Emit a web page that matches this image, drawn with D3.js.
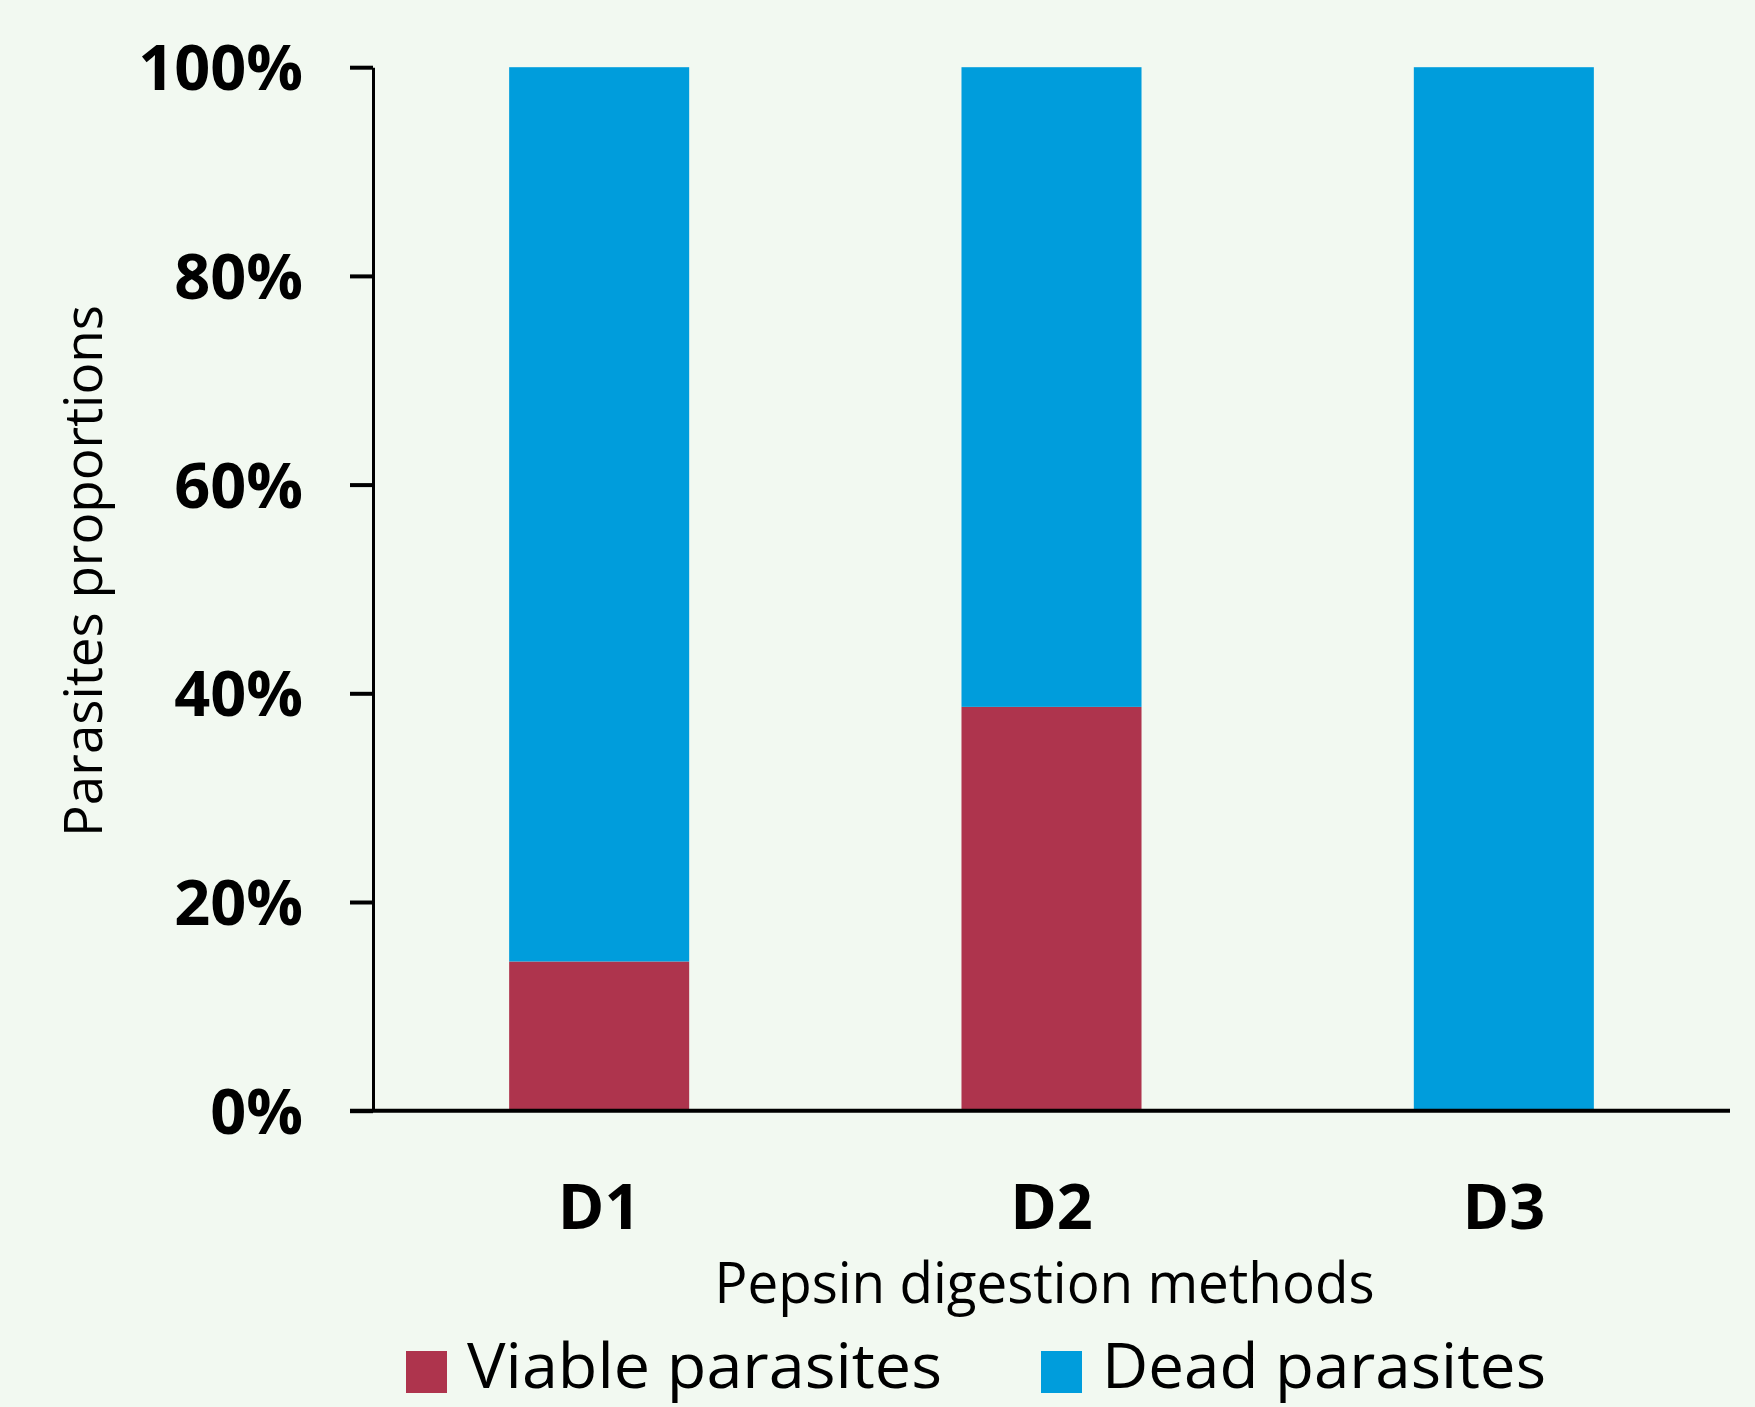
<!DOCTYPE html>
<html>
<head>
<meta charset="utf-8">
<script src="https://cdn.jsdelivr.net/npm/d3@7"></script>
<style>
	html, body { margin: 0; padding: 0; background: #F2F9F1; }
	svg { display: block; }
	.tick text { font-family: 'Open Sans', sans-serif; font-weight: bold; fill: #000; }
	.label { font-family: 'Open Sans', sans-serif; fill: #000; }
</style>
</head>
<body>
<div id="chart"></div>
<script>
const categories = ['D1', 'D2', 'D3'];
const viable = [0.143, 0.387, 0];
const dead = [0.857, 0.613, 1];
const seriesNames = ['Viable parasites', 'Dead parasites'];
const seriesColors = ['#AE344D', '#009DDC'];
const yTicks = [0, 0.2, 0.4, 0.6, 0.8, 1];

function trans(x, y) {
	return 'translate(' + x + ',' + y + ')';
}

class StackedBars {
	constructor() {
		this.STYLE = {
			WIDTH: 1755,
			HEIGHT: 1407,
			LEFT: 373,
			RIGHT: 1730,
			TOP: 67.2,
			BOTTOM: 1110.7,
			DOM_ID: '#chart'
		};
		// one row per category, keys = series names
		this.rows = categories.map((c, i) => ({
			cat: c,
			'Viable parasites': viable[i],
			'Dead parasites': dead[i]
		}));
	}

	build() {
		this.makeScales();
		this.appendSvg();
		this.addBars();
		this.addAxes();
		this.addTitles();
		this.addLegend();
	}

	makeScales() {
		const { LEFT, RIGHT, TOP, BOTTOM } = this.STYLE;
		this.x = d3.scaleBand()
			.domain(categories)
			.range([LEFT, RIGHT])
			.paddingInner(0.602)
			.paddingOuter(0.301);
		this.y = d3.scaleLinear()
			.domain([0, 1])
			.range([BOTTOM, TOP]);
		this.color = d3.scaleOrdinal()
			.domain(seriesNames)
			.range(seriesColors);
	}

	appendSvg() {
		const { WIDTH, HEIGHT, DOM_ID } = this.STYLE;
		this.svg = d3.select(DOM_ID)
			.append('svg')
			.attr('width', WIDTH)
			.attr('height', HEIGHT);
		this.svg.append('rect')
			.attr('width', WIDTH)
			.attr('height', HEIGHT)
			.attr('fill', '#F2F9F1');
	}

	addBars() {
		const { x, y, color } = this;
		const stack = d3.stack().keys(seriesNames)(this.rows);

		this.svg.append('g')
			.selectAll('g')
			.data(stack)
			.enter()
			.append('g')
			.attr('fill', d => color(d.key))
			.selectAll('rect')
			.data(d => d)
			.enter()
			.append('rect')
			.attr('x', d => x(d.data.cat))
			.attr('width', x.bandwidth())
			.attr('y', d => y(d[1]))
			.attr('height', d => y(d[0]) - y(d[1]));
	}

	addAxes() {
		const { x, y } = this;
		const { LEFT, BOTTOM } = this.STYLE;

		const yAxis = this.svg.append('g')
			.attr('transform', trans(LEFT, 0))
			.call(d3.axisLeft(y)
				.tickValues(yTicks)
				.tickFormat(d3.format('.0%'))
				.tickSize(23)
				.tickSizeOuter(0)
				.tickPadding(47));
		yAxis.select('.domain').attr('stroke', '#000').attr('stroke-width', 3);
		yAxis.selectAll('.tick line').attr('stroke', '#000').attr('stroke-width', 4);
		yAxis.selectAll('.tick text')
			.attr('font-size', 63)
			.attr('dy', '0.36em');

		const xAxis = this.svg.append('g')
			.attr('transform', trans(0, BOTTOM))
			.call(d3.axisBottom(x)
				.tickSize(0)
				.tickPadding(118));
		xAxis.select('.domain').remove();
		xAxis.selectAll('.tick text')
			.attr('font-size', 63)
			.attr('dy', 0);

		// the bottom axis line runs past the value axis like the tick marks do
		this.svg.append('line')
			.attr('x1', LEFT - 23)
			.attr('x2', x.range()[1])
			.attr('y1', BOTTOM)
			.attr('y2', BOTTOM)
			.attr('stroke', '#000')
			.attr('stroke-width', 4);
	}

	addTitles() {
		this.svg.append('text')
			.attr('class', 'label')
			.attr('transform', trans(101.7, 571) + ' rotate(-90)')
			.attr('text-anchor', 'middle')
			.attr('font-size', 53)
			.attr('textLength', 532)
			.attr('lengthAdjust', 'spacingAndGlyphs')
			.text('Parasites proportions');

		this.svg.append('text')
			.attr('class', 'label')
			.attr('x', 1044.5)
			.attr('y', 1302.7)
			.attr('text-anchor', 'middle')
			.attr('font-size', 57)
			.attr('textLength', 660)
			.attr('lengthAdjust', 'spacingAndGlyphs')
			.text('Pepsin digestion methods');
	}

	addLegend() {
		const items = [
			{ name: seriesNames[0], x: 406, w: 475 },
			{ name: seriesNames[1], x: 1041, w: 444 }
		];
		const g = this.svg.append('g')
			.selectAll('g')
			.data(items)
			.enter()
			.append('g')
			.attr('transform', d => trans(d.x, 1351));
		g.append('rect')
			.attr('width', 41)
			.attr('height', 42)
			.attr('fill', d => this.color(d.name));
		g.append('text')
			.attr('class', 'label')
			.attr('x', 61)
			.attr('y', 37)
			.attr('font-size', 63)
			.attr('textLength', d => d.w)
			.attr('lengthAdjust', 'spacingAndGlyphs')
			.text(d => d.name);
	}
}

const chart = new StackedBars();
chart.build();
</script>
</body>
</html>
